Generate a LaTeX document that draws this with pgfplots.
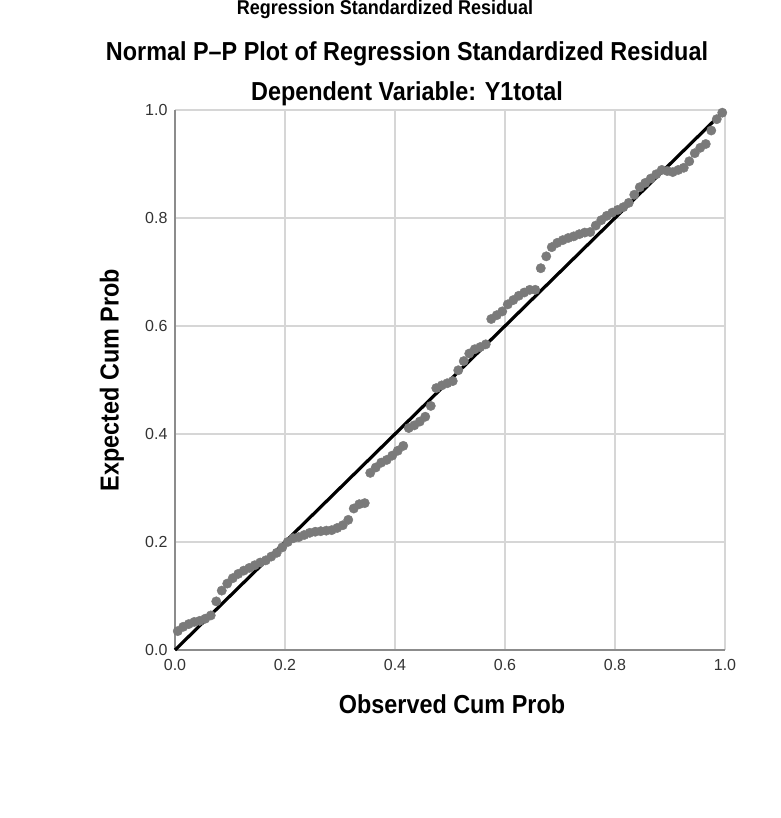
\documentclass[border=0pt]{standalone}
\usepackage{fontspec}
\setmainfont{Liberation Sans}
\newfontfamily\condb{Liberation Sans}[FakeStretch=0.9]
\usepackage{pgfplots}
\pgfplotsset{compat=1.18}
\definecolor{pt}{HTML}{7A7A7A}
\definecolor{gridc}{HTML}{D6D6D6}
\definecolor{axc}{HTML}{8C8C8C}

\begin{document}
\begin{tikzpicture}
\useasboundingbox (0,0) rectangle (780pt,818pt);
\node[font=\condb\bfseries\fontsize{20}{24}\selectfont, anchor=north, inner sep=0pt] at (385pt,818pt) {Regression Standardized Residual};
\node[font=\condb\bfseries\fontsize{26}{30}\selectfont] at (407pt,764pt) {Normal P–P Plot of Regression Standardized Residual};
\node[font=\condb\bfseries\fontsize{26}{30}\selectfont] at (407pt,724pt) {Dependent Variable: Y1total};
\begin{axis}[
  at={(175pt,168pt)}, anchor=south west,
  width=550pt, height=540pt, scale only axis,
  xmin=0, xmax=1, ymin=0, ymax=1,
  axis x line=bottom, axis y line=left,
  axis line style={axc, line width=1.3pt, -},
  grid=major, grid style={gridc, line width=1.2pt},
  xtick={0,0.2,0.4,0.6,0.8,1}, ytick={0,0.2,0.4,0.6,0.8,1},
  major tick length=0pt,
  ticklabel style={font=\fontsize{16}{19}\selectfont, text=black!80},
  xticklabel style={yshift=-6pt, /pgf/number format/.cd, fixed, fixed zerofill, precision=1, assume math mode=true},
  yticklabel style={xshift=-4pt, /pgf/number format/.cd, fixed, fixed zerofill, precision=1, assume math mode=true},
  clip=false,
]
% observed vs expected cumulative probabilities
\addplot[only marks, mark=*, mark size=4.7pt, color=pt, mark options={draw=pt, fill=pt}] coordinates {
(0.005,0.035)(0.015,0.043)(0.025,0.048)(0.035,0.052)(0.045,0.054)
(0.055,0.058)(0.065,0.064)(0.075,0.090)(0.085,0.110)(0.095,0.123)
(0.105,0.133)(0.115,0.141)(0.125,0.147)(0.135,0.152)(0.145,0.157)
(0.155,0.162)(0.165,0.166)(0.175,0.173)(0.185,0.180)(0.195,0.190)
(0.205,0.200)(0.215,0.207)(0.225,0.209)(0.235,0.213)(0.245,0.217)
(0.255,0.219)(0.265,0.220)(0.275,0.221)(0.285,0.222)(0.295,0.226)
(0.305,0.231)(0.315,0.241)(0.325,0.262)(0.335,0.270)(0.345,0.272)
(0.355,0.328)(0.365,0.338)(0.375,0.347)(0.385,0.352)(0.395,0.360)
(0.405,0.369)(0.415,0.378)(0.425,0.411)(0.435,0.416)(0.445,0.423)
(0.455,0.432)(0.465,0.452)(0.475,0.485)(0.485,0.490)(0.495,0.494)
(0.505,0.498)(0.515,0.518)(0.525,0.535)(0.535,0.549)(0.545,0.557)
(0.555,0.561)(0.565,0.566)(0.575,0.613)(0.585,0.620)(0.595,0.627)
(0.605,0.640)(0.615,0.648)(0.625,0.656)(0.635,0.662)(0.645,0.667)
(0.655,0.667)(0.665,0.707)(0.675,0.729)(0.685,0.746)(0.695,0.754)
(0.705,0.759)(0.715,0.763)(0.725,0.766)(0.735,0.770)(0.745,0.773)
(0.755,0.774)(0.765,0.786)(0.775,0.796)(0.785,0.804)(0.795,0.810)
(0.805,0.815)(0.815,0.820)(0.825,0.828)(0.835,0.843)(0.845,0.857)
(0.855,0.865)(0.865,0.873)(0.875,0.881)(0.885,0.889)(0.895,0.887)
(0.905,0.885)(0.915,0.889)(0.925,0.893)(0.935,0.905)(0.945,0.920)
(0.955,0.930)(0.965,0.937)(0.975,0.962)(0.985,0.983)(0.995,0.995)
};
\addplot[black, line width=3.2pt] coordinates {(0,0)(1,1)};
\end{axis}
\node[font=\condb\bfseries\fontsize{26}{30}\selectfont] at (452pt,114pt) {Observed Cum Prob};
\node[font=\condb\bfseries\fontsize{26}{30}\selectfont, rotate=90] at (112pt,438pt) {Expected Cum Prob};
\end{tikzpicture}
\end{document}
